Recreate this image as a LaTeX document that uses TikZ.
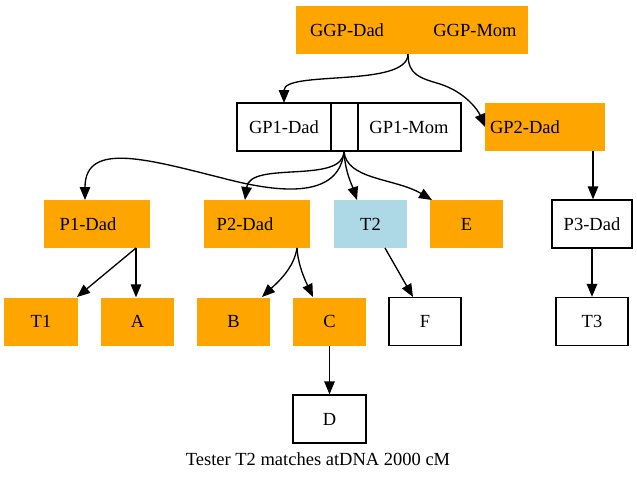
\documentclass[tikz,border=0pt]{standalone}
\usepackage{fontspec}
\setmainfont{Liberation Serif}
\usetikzlibrary{arrows.meta}
\definecolor{gvorange}{HTML}{FFA500}
\definecolor{gvblue}{HTML}{ADD8E6}
\begin{document}
\begin{tikzpicture}[x=1pt,y=-1pt,
  box/.style={rectangle, minimum height=48pt, inner sep=0pt, font=\fontsize{18.5}{22}\selectfont},
  obox/.style={box, fill=gvorange},
  wbox/.style={box, draw=black, line width=1.33pt, fill=white},
  bbox/.style={box, fill=gvblue},
  lbl/.style={inner sep=0pt, font=\fontsize{18.5}{22}\selectfont},
  divider/.style={line width=1.33pt},
  edge/.style={draw, line width=1.33pt, -{Triangle[length=13pt,width=10.5pt]}}
]
\useasboundingbox (0,0) rectangle (637,480);
% top record
\node[obox, minimum width=232pt] (ggp) at (412,30) {};
\node[lbl] (ggpdad) at (347,30) {GGP-Dad};
\node[lbl] (ggpmom) at (475,30) {GGP-Mom};
\coordinate (ggpport) at (408,54);
% GP1 record
\node[wbox, minimum width=224pt] (gp1) at (349,127) {};
\draw[divider] (331,103) -- (331,151);
\draw[divider] (358,103) -- (358,151);
\node[lbl] (gp1dad) at (284,127) {GP1-Dad};
\node[lbl] (gp1mom) at (409,127) {GP1-Mom};
\coordinate (gp1port) at (344,151);
% GP2
\node[obox, minimum width=120pt] (gp2) at (545,127) {};
\node[lbl] (gp2txt) at (525,127) {GP2-Dad};
\coordinate (gp2port) at (593,151);
% row 3
\node[obox, minimum width=106pt] (p1) at (97,224) {};
\node[lbl] (p1txt) at (88,224) {P1-Dad};
\coordinate (p1port) at (136,248);
\node[obox, minimum width=106pt] (p2) at (257,224) {};
\node[lbl] (p2txt) at (245,224) {P2-Dad};
\coordinate (p2port) at (297,248);
\node[bbox, minimum width=73pt] (t2) at (370.5,224) {T2};
\node[obox, minimum width=73pt] (e) at (466.5,224) {E};
\node[wbox, minimum width=80pt] (p3) at (592,224) {P3-Dad};
% row 4
\node[obox, minimum width=74pt] (t1) at (41,321.5) {T1};
\node[obox, minimum width=73pt] (a) at (137.5,321.5) {A};
\node[obox, minimum width=73pt] (b) at (233.5,321.5) {B};
\node[obox, minimum width=73pt] (c) at (329.5,321.5) {C};
\node[wbox, minimum width=72pt] (f) at (425,321.5) {F};
\node[wbox, minimum width=72pt] (t3) at (592,321.5) {T3};
% row 5
\node[wbox, minimum width=73pt] (d) at (329.5,419) {D};
\node[lbl] (caption) at (318,459) {Tester T2 matches atDNA 2000 cM};
% edges
\coordinate (gp1in) at (284,103);
\coordinate (gp2in) at (485,127);
\coordinate (p1in) at (85,200);
\coordinate (p2in) at (245,200);
\coordinate (t2in) at (357,200);
\coordinate (ein) at (432,200);
\draw[edge] (ggpport) .. controls (408,88) and (284,70) .. (gp1in);
\draw[edge] (ggpport) .. controls (408,75) and (420,78) .. (440,84) .. controls (465,92) and (478,110) .. (gp2in);
\draw[edge] (gp1port) .. controls (340,195) and (290,195) .. (230,180) .. controls (150,160) and (85,140) .. (p1in);
\draw[edge] (gp1port) .. controls (344,185) and (250,160) .. (p2in);
\draw[edge] (gp1port) .. controls (345,172) and (352,185) .. (t2in);
\draw[edge] (gp1port) .. controls (346,180) and (395,178) .. (ein);
\draw[edge] (gp2port) -- (p3.north -| gp2port);
\draw[edge] (p3.south) -- (t3.north);
\draw[edge] (p1port) -- (77,297) coordinate (t1in);
\draw[edge] (p1port) -- (a.north -| p1port);
\draw[edge] (p2port) .. controls (294,268) and (278,282) .. (262,297) coordinate (bin);
\draw[edge] (p2port) .. controls (298,265) and (305,280) .. (313,297) coordinate (cin);
\draw[edge] (385,248) coordinate (t2out) -- (413,297) coordinate (fin);
\draw[edge] (c.south) -- (d.north);
\end{tikzpicture}
\end{document}
